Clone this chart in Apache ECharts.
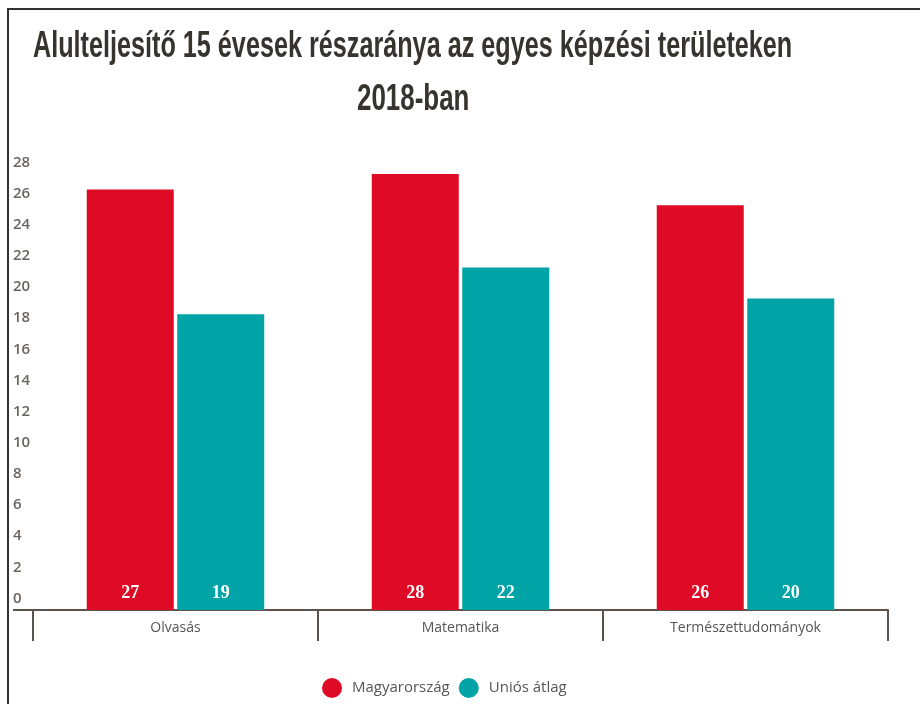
<!DOCTYPE html>
<html>
<head>
<meta charset="utf-8">
<script src="https://cdn.jsdelivr.net/npm/echarts@6/dist/echarts.min.js"></script>
<style>
  html, body { margin: 0; padding: 0; background: #fff; }
  #chart { width: 920px; height: 704px; }
  #frame {
    position: absolute; left: 7px; top: 8px; width: 913px; height: 696px;
    border-left: 2px solid #333; border-top: 2px solid #333;
    pointer-events: none;
  }
</style>
</head>
<body>
<div id="chart"></div>
<div id="frame"></div>
<script>
const titleLines = ['Alulteljesítő 15 évesek részaránya az egyes képzési területeken', '2018-ban']
const categories = ['Olvasás', 'Matematika', 'Természettudományok']
const seriesNames = ['Magyarország', 'Uniós átlag']
const hungary = [27, 28, 26]
const euAverage = [19, 22, 20]
const seriesColors = ['#df0a25', '#00a3a6']
const yMax = 28
const yStep = 2

const chart = echarts.init(document.getElementById('chart'))

const axisColor = '#5a524b'
const labelFont = "'Open Sans', sans-serif"
// no condensed font installed, so the title is squeezed horizontally
const titleFont = "bold 36px 'Liberation Sans', Arial, sans-serif"

const valueLabel = {
  show: true,
  position: 'insideBottom',
  distance: 8,
  color: '#fff',
  fontFamily: "'Liberation Serif', serif",
  fontWeight: 'bold',
  fontSize: 18
}

const option = {
  animation: false,
  legend: {
    left: 317, top: 673,
    icon: 'circle',
    itemWidth: 30, itemHeight: 20, itemGap: 9,
    textStyle: { color: '#555', fontFamily: labelFont, fontSize: 15 },
    data: seriesNames
  },
  grid: { left: 33, right: 32, top: 174, bottom: 94 },
  xAxis: {
    type: 'category',
    data: categories,
    axisLine: { lineStyle: { color: axisColor, width: 2 } },
    axisTick: { show: true, interval: 0, length: 31, lineStyle: { color: axisColor, width: 2 } },
    axisLabel: { color: '#555', fontFamily: labelFont, fontSize: 14, margin: 11 }
  },
  yAxis: {
    type: 'value',
    min: 0, max: yMax, interval: yStep,
    axisLine: { show: false },
    axisTick: { show: false },
    splitLine: { show: false },
    axisLabel: {
      align: 'left', margin: 20,
      verticalAlign: 'bottom', padding: [0, 0, 4, 0],
      color: '#6b6560', fontFamily: labelFont, fontWeight: 600, fontSize: 15
    }
  },
  graphic: [
    { type: 'line', shape: { x1: 13, y1: 610, x2: 34, y2: 610 }, style: { stroke: axisColor, lineWidth: 2 } },
    { type: 'text', x: 33, y: 47, scaleX: 0.70, style: { text: titleLines[0], font: titleFont, fill: '#37332f', textVerticalAlign: 'middle' } },
    { type: 'text', x: 357, y: 100, scaleX: 0.72, style: { text: titleLines[1], font: titleFont, fill: '#37332f', textVerticalAlign: 'middle' } }
  ],
  series: [
    { name: seriesNames[0], type: 'bar', data: hungary, barWidth: 87, barGap: '4%', itemStyle: { color: seriesColors[0] }, label: valueLabel },
    { name: seriesNames[1], type: 'bar', data: euAverage, barWidth: 87, barGap: '4%', itemStyle: { color: seriesColors[1] }, label: valueLabel }
  ]
}

chart.setOption(option)
</script>
</body>
</html>
